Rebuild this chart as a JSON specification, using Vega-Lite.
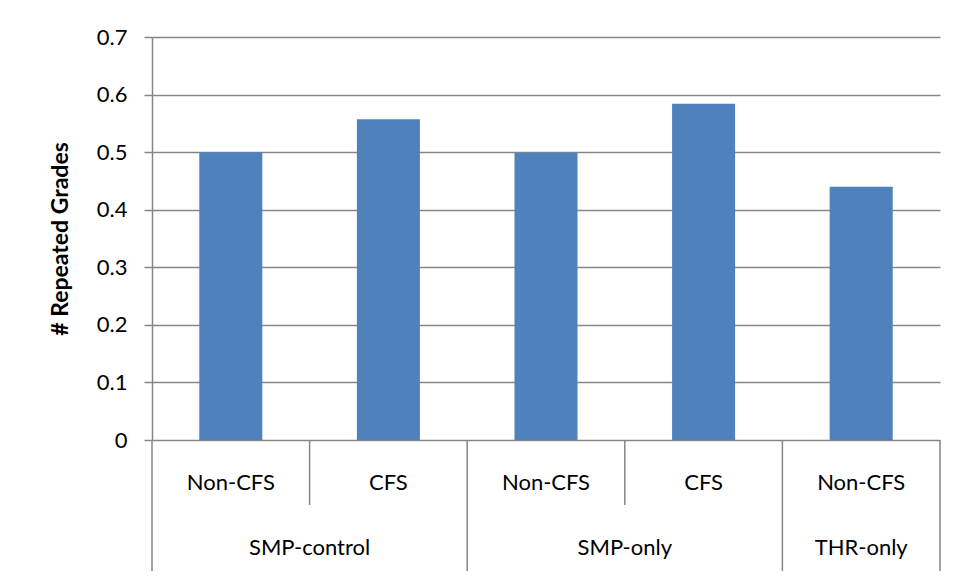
{
  "$schema": "https://vega.github.io/schema/vega-lite/v6.json",
  "width": 788,
  "height": 403,
  "autosize": {"type": "none"},
  "padding": {"left": 152, "top": 37, "right": 17, "bottom": 141},
  "background": "white",
  "config": {
    "view": {"stroke": null},
    "font": "Lato"
  },
  "data": {
    "values": [
      {"group": "SMP-control", "cat": "Non-CFS", "key": "SMP-control|Non-CFS", "value": 0.5},
      {"group": "SMP-control", "cat": "CFS", "key": "SMP-control|CFS", "value": 0.557},
      {"group": "SMP-only", "cat": "Non-CFS", "key": "SMP-only|Non-CFS", "value": 0.499},
      {"group": "SMP-only", "cat": "CFS", "key": "SMP-only|CFS", "value": 0.584},
      {"group": "THR-only", "cat": "Non-CFS", "key": "THR-only|Non-CFS", "value": 0.44}
    ]
  },
  "transform": [
    {"window": [{"op": "row_number", "as": "idx"}], "groupby": ["group"]},
    {"joinaggregate": [{"op": "count", "as": "n"}], "groupby": ["group"]},
    {"window": [{"op": "row_number", "as": "g"}]},
    {"joinaggregate": [{"op": "count", "as": "N"}]}
  ],
  "encoding": {
    "x": {
      "field": "key",
      "type": "nominal",
      "sort": null,
      "scale": {"paddingInner": 0, "paddingOuter": 0},
      "axis": null
    }
  },
  "layer": [
    {
      "mark": {"type": "bar", "color": "#4F81BD", "width": {"band": 0.4}},
      "encoding": {
        "y": {
          "field": "value",
          "type": "quantitative",
          "scale": {"domain": [0, 0.7], "nice": false, "zero": true},
          "axis": {
            "values": [0, 0.1, 0.2, 0.3, 0.4, 0.5, 0.6, 0.7],
            "format": "~g",
            "grid": true,
            "gridColor": "#868686",
            "gridWidth": 1.5,
            "domainColor": "#868686",
            "domainWidth": 1.5,
            "tickColor": "#868686",
            "tickWidth": 1.5,
            "tickSize": 8,
            "labelPadding": 17,
            "labelFont": "Lato",
            "labelFontSize": 22,
            "labelColor": "black",
            "title": "# Repeated Grades",
            "titleFont": "Lato",
            "titleFontSize": 23,
            "titleFontWeight": "bold",
            "titleColor": "black",
            "titlePadding": 24
          }
        }
      }
    },
    {
      "mark": {"type": "text", "baseline": "middle", "align": "center", "fontSize": 22, "font": "Lato", "color": "black"},
      "encoding": {
        "y": {"datum": -0.0747, "type": "quantitative"},
        "text": {"field": "cat"}
      }
    },
    {
      "transform": [{"filter": "datum.idx > 1"}],
      "mark": {"type": "rule", "color": "#868686", "strokeWidth": 1.5},
      "encoding": {
        "x": {"field": "key", "type": "nominal", "sort": null, "bandPosition": 0},
        "y": {"datum": 0, "type": "quantitative"},
        "y2": {"datum": -0.1129}
      }
    },
    {
      "transform": [{"filter": "datum.idx == 1"}],
      "mark": {"type": "rule", "color": "#868686", "strokeWidth": 1.5},
      "encoding": {
        "x": {"field": "key", "type": "nominal", "sort": null, "bandPosition": 0},
        "y": {"datum": 0, "type": "quantitative"},
        "y2": {"datum": -0.2275}
      }
    },
    {
      "transform": [{"filter": "datum.g == datum.N"}],
      "mark": {"type": "rule", "color": "#868686", "strokeWidth": 1.5},
      "encoding": {
        "x": {"field": "key", "type": "nominal", "sort": null, "bandPosition": 1},
        "y": {"datum": 0, "type": "quantitative"},
        "y2": {"datum": -0.2275}
      }
    },
    {
      "transform": [{"filter": "datum.idx == 1 && datum.n == 2"}],
      "mark": {"type": "text", "baseline": "middle", "align": "center", "fontSize": 22, "font": "Lato", "color": "black"},
      "encoding": {
        "x": {"field": "key", "type": "nominal", "sort": null, "bandPosition": 1},
        "y": {"datum": -0.1876, "type": "quantitative"},
        "text": {"field": "group"}
      }
    },
    {
      "transform": [{"filter": "datum.n == 1"}],
      "mark": {"type": "text", "baseline": "middle", "align": "center", "fontSize": 22, "font": "Lato", "color": "black"},
      "encoding": {
        "x": {"field": "key", "type": "nominal", "sort": null, "bandPosition": 0.5},
        "y": {"datum": -0.1876, "type": "quantitative"},
        "text": {"field": "group"}
      }
    }
  ]
}
